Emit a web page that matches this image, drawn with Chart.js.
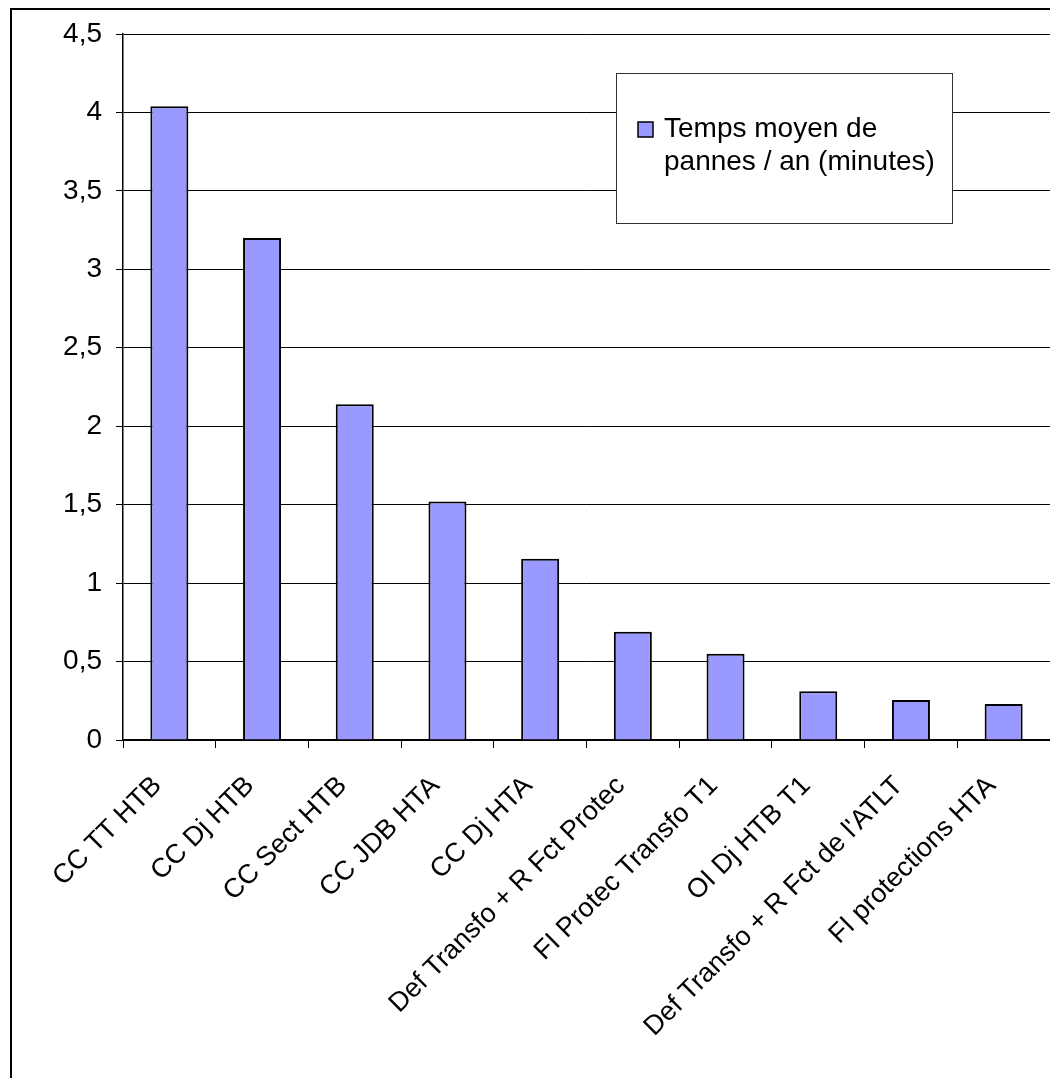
<!DOCTYPE html>
<html>
<head>
<meta charset="utf-8">
<script src="https://cdn.jsdelivr.net/npm/chart.js@4"></script>
<style>
  html, body { margin: 0; padding: 0; background: #fff; }
  canvas { display: block; }
</style>
</head>
<body>
<canvas id="pannesChart" width="1050" height="1078"></canvas>
<script>
// data
const categories = [
    'CC TT HTB', 'CC Dj HTB', 'CC Sect HTB', 'CC JDB HTA', 'CC Dj HTA',
    'Def Transfo + R Fct Protec', 'FI Protec Transfo T1', 'OI Dj HTB T1',
    "Def Transfo + R Fct de l'ATLT", 'FI protections HTA'
];
const tempsMoyen = [4.04, 3.2, 2.14, 1.52, 1.155, 0.69, 0.55, 0.31, 0.255, 0.23];
const seriesLabel = 'Temps moyen de pannes / an (minutes)';
const legendLines = ['Temps moyen de', 'pannes / an (minutes)'];
const yTicks = [0, 0.5, 1, 1.5, 2, 2.5, 3, 3.5, 4, 4.5];

const FONT = '"Liberation Sans", Arial, sans-serif';

// outer frame of the Excel chart object (cut off on the right and bottom)
const framePlugin = {
    id: 'frame',
    beforeDraw(chart) {
        const ctx = chart.ctx;
        ctx.save();
        ctx.fillStyle = '#fff';
        ctx.fillRect(0, 0, chart.width, chart.height);
        ctx.strokeStyle = '#000';
        ctx.lineWidth = 2;
        ctx.strokeRect(11, 9, chart.width + 20, chart.height + 20);
        ctx.restore();
    }
};

// boxed legend sitting inside the plot area
const boxLegendPlugin = {
    id: 'boxLegend',
    afterDraw(chart) {
        const ctx = chart.ctx;
        const ds = chart.data.datasets[0];
        const x = 616, y = 73, w = 336, h = 150;
        ctx.save();
        ctx.fillStyle = '#fff';
        ctx.fillRect(x, y, w, h);
        ctx.strokeStyle = '#333';
        ctx.lineWidth = 1;
        ctx.strokeRect(x + 0.5, y + 0.5, w, h);

        ctx.fillStyle = ds.backgroundColor;
        ctx.fillRect(x + 22, y + 49, 15, 15);
        ctx.strokeStyle = '#000';
        ctx.lineWidth = 1.5;
        ctx.strokeRect(x + 22, y + 49, 15, 15);

        ctx.fillStyle = '#000';
        ctx.font = '28px ' + FONT;
        ctx.textBaseline = 'alphabetic';
        ctx.textAlign = 'left';
        ctx.fillText(legendLines[0], x + 48, y + 64);
        ctx.fillText(legendLines[1], x + 48, y + 97);
        ctx.restore();
    }
};

new Chart(document.getElementById('pannesChart'), {
    type: 'bar',
    data: {
        labels: categories,
        datasets: [{
            label: seriesLabel,
            data: tempsMoyen,
            backgroundColor: '#9999ff',
            borderColor: '#000',
            borderWidth: 2,
            barPercentage: 0.41,
            categoryPercentage: 1.0
        }]
    },
    options: {
        responsive: false,
        animation: false,
        devicePixelRatio: 1,
        layout: {
            padding: { left: 0, top: 34, right: 0, bottom: 0 }
        },
        plugins: {
            legend: { display: false },
            tooltip: { enabled: false }
        },
        scales: {
            x: {
                grid: {
                    offset: true,
                    drawOnChartArea: false,
                    drawTicks: true,
                    tickLength: 8,
                    color: '#000',
                    lineWidth: 1
                },
                border: { color: '#000', width: 1.5 },
                ticks: {
                    color: '#000',
                    font: { family: FONT, size: 27 },
                    maxRotation: 45,
                    minRotation: 45,
                    autoSkip: false,
                    padding: 22,
                    labelOffset: -12
                },
                afterFit(scale) { scale.height = 338; }
            },
            y: {
                min: 0,
                max: 4.5,
                afterBuildTicks(scale) {
                    scale.ticks = yTicks.map(v => ({ value: v }));
                },
                grid: {
                    color: '#000',
                    lineWidth: 1,
                    drawTicks: true,
                    tickLength: 7
                },
                border: { color: '#000', width: 1.5 },
                ticks: {
                    color: '#000',
                    font: { family: FONT, size: 28 },
                    padding: 14,
                    callback: function(value) {
                        return String(value).replace('.', ',');
                    }
                },
                afterFit(scale) { scale.width = 123; }
            }
        }
    },
    plugins: [framePlugin, boxLegendPlugin]
});
</script>
</body>
</html>
